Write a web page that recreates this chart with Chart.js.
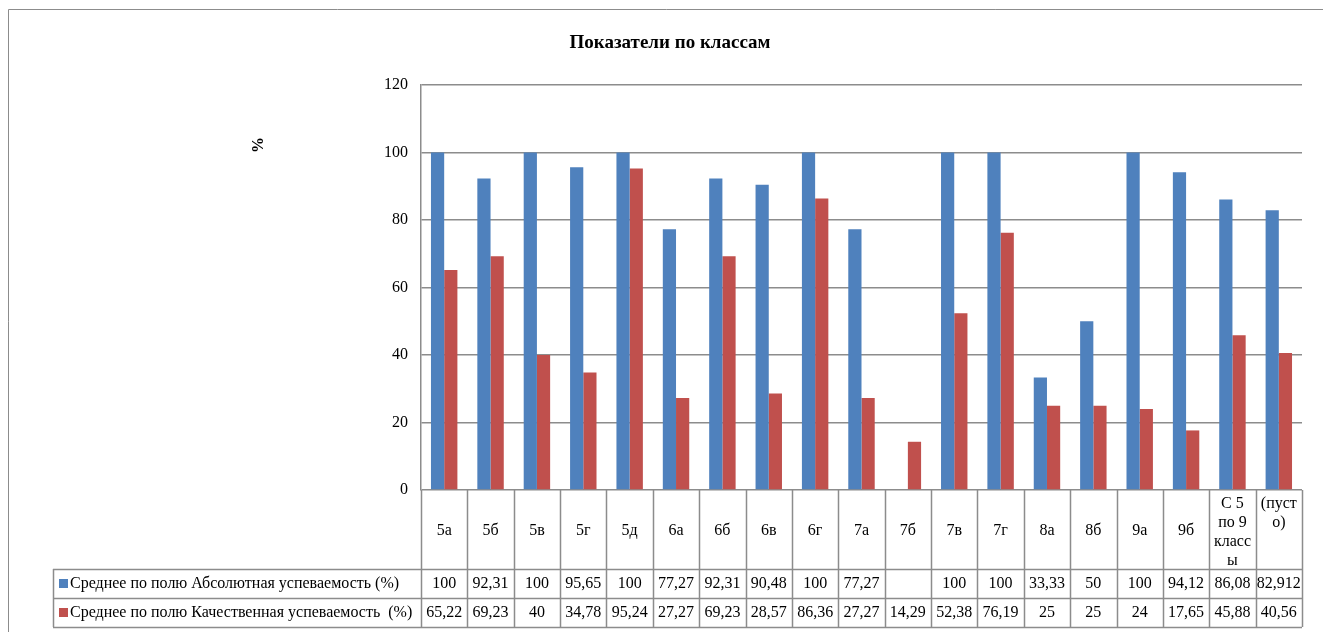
<!DOCTYPE html>
<html>
<head>
<meta charset="utf-8">
<script src="https://cdn.jsdelivr.net/npm/chart.js@4"></script>
<style>
  body { margin: 0; background: #fff; }
  canvas { display: block; }
</style>
</head>
<body>
<canvas id="chart" width="1323" height="632"></canvas>
<script>
// 클래스 목록 (여러 줄 라벨은 배열)
const categories = ['5а', '5б', '5в', '5г', '5д', '6а', '6б', '6в', '6г', '7а', '7б', '7в', '7г', '8а', '8б', '9а', '9б',
    ['С 5', 'по 9', 'класс', 'ы'], ['(пуст', 'о)']];

const seriesNames = ['Среднее по полю Абсолютная успеваемость (%)', 'Среднее по полю Качественная успеваемость  (%)'];

const absolute = [100, 92.31, 100, 95.65, 100, 77.27, 92.31, 90.48, 100, 77.27, null, 100, 100, 33.33, 50, 100, 94.12, 86.08, 82.912];
const quality = [65.22, 69.23, 40, 34.78, 95.24, 27.27, 69.23, 28.57, 86.36, 27.27, 14.29, 52.38, 76.19, 25, 25, 24, 17.65, 45.88, 40.56];

const yTicks = { min: 0, max: 120, step: 20 };

const chartTitle = 'Показатели по классам';
const yTitle = '%';

const colors = ['#4F81BD', '#C0504D'];
const lineColor = '#8c8c8c';
const serif = '"Liberation Serif", "Times New Roman", serif';

function fmt(v) {
    if (v === null || v === undefined) return '';
    return String(v).replace('.', ',');
}

// 표와 제목을 그리는 플러그인
const tablePlugin = {
    id: 'dataTable',
    afterDraw(chart) {
        const ctx = chart.ctx;
        const area = chart.chartArea;
        const x = chart.scales.x;
        const n = categories.length;
        const step = (area.right - area.left) / n;
        const rowTop = area.bottom;
        const row1 = 569, row2 = 598, row3 = 627;
        const tableLeft = 53;

        ctx.save();
        ctx.strokeStyle = lineColor;
        ctx.lineWidth = 1;

        // 바깥 테두리
        ctx.beginPath();
        ctx.moveTo(8.5, 700);
        ctx.lineTo(8.5, 9.5);
        ctx.lineTo(1400, 9.5);
        ctx.stroke();

        // 표 격자선
        ctx.lineWidth = 1.5;
        ctx.beginPath();
        for (let i = 0; i <= n; i++) {
            const px = Math.round(area.left + i * step) + 0.5;
            ctx.moveTo(px, rowTop);
            ctx.lineTo(px, row3);
        }
        [row1, row2, row3].forEach(y => {
            ctx.moveTo(tableLeft, y + 0.5);
            ctx.lineTo(area.right, y + 0.5);
        });
        ctx.moveTo(tableLeft + 0.5, row1);
        ctx.lineTo(tableLeft + 0.5, row3);
        ctx.stroke();

        // 제목
        ctx.fillStyle = '#000';
        ctx.textAlign = 'center';
        ctx.textBaseline = 'middle';
        ctx.font = 'bold 19px ' + serif;
        ctx.fillText(chartTitle, 670, 43);

        // y축 제목
        ctx.save();
        ctx.translate(259, 145);
        ctx.rotate(-Math.PI / 2);
        ctx.font = 'bold 16px ' + serif;
        ctx.fillText(yTitle, 0, 0);
        ctx.restore();

        // 카테고리 라벨
        ctx.font = '16px ' + serif;
        categories.forEach((c, i) => {
            const cx = x.getPixelForValue(i);
            if (Array.isArray(c)) {
                c.forEach((line, j) => ctx.fillText(line, cx, 504 + j * 19));
            } else {
                ctx.fillText(c, cx, 531);
            }
        });

        // 값
        [absolute, quality].forEach((arr, s) => {
            const cy = s === 0 ? 584 : 613;
            arr.forEach((v, i) => {
                ctx.fillText(fmt(v), x.getPixelForValue(i), cy);
            });
            // 범례 칸
            ctx.fillStyle = colors[s];
            ctx.fillRect(59, cy - 5, 9, 9);
            ctx.fillStyle = '#000';
            ctx.textAlign = 'left';
            ctx.fillText(seriesNames[s], 70, cy);
            ctx.textAlign = 'center';
        });

        ctx.restore();
    }
};

const ctx = document.getElementById('chart').getContext('2d');
new Chart(ctx, {
    type: 'bar',
    data: {
        labels: categories.map(c => Array.isArray(c) ? c.join(' ') : c),
        datasets: [
            { label: seriesNames[0], data: absolute, backgroundColor: colors[0], categoryPercentage: 0.57, barPercentage: 1 },
            { label: seriesNames[1], data: quality, backgroundColor: colors[1], categoryPercentage: 0.57, barPercentage: 1 }
        ]
    },
    options: {
        responsive: false,
        animation: false,
        layout: { padding: { left: 9, right: 21, top: 85, bottom: 142 } },
        plugins: {
            legend: { display: false },
            title: { display: false },
            tooltip: { enabled: false }
        },
        scales: {
            x: { display: false },
            y: {
                min: yTicks.min,
                max: yTicks.max,
                afterFit: scale => { scale.width = 412; },
                ticks: {
                    stepSize: yTicks.step,
                    padding: 13,
                    color: '#000',
                    font: { family: serif, size: 16 }
                },
                grid: { color: lineColor, lineWidth: 1.5, drawTicks: false },
                border: { color: lineColor, width: 1.5 }
            }
        }
    },
    plugins: [tablePlugin]
});
</script>
</body>
</html>
